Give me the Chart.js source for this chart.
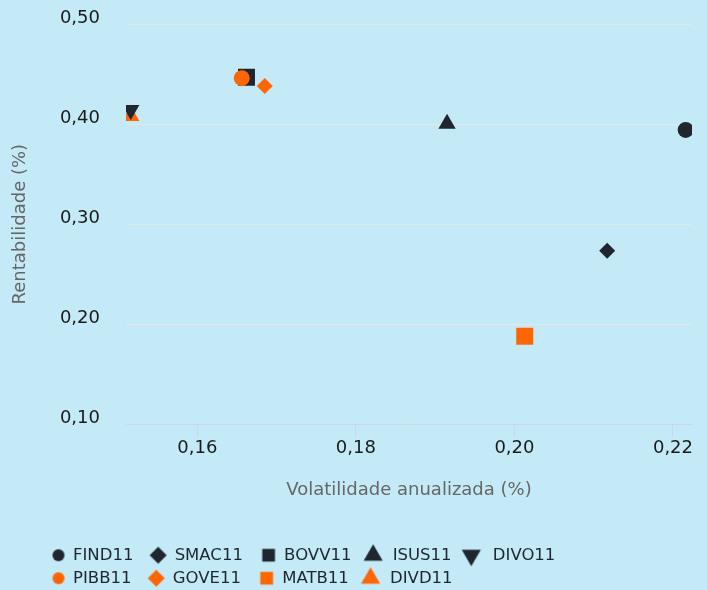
<!DOCTYPE html>
<html>
<head>
<meta charset="utf-8">
<script src="https://cdn.jsdelivr.net/npm/chart.js@4.4.1/dist/chart.umd.min.js"></script>
<style>
  html, body { margin: 0; padding: 0; background: #c4eaf7; }
  #wrap { position: relative; width: 707px; height: 590px; }
</style>
</head>
<body>
<div id="wrap"><canvas id="riskChart"></canvas></div>
<script>
// data
const funds = ['FIND11', 'SMAC11', 'BOVV11', 'ISUS11', 'DIVO11', 'PIBB11', 'GOVE11', 'MATB11', 'DIVD11'];
const volatility = [0.2216, 0.2117, 0.1662, 0.1915, 0.1516, 0.1656, 0.1685, 0.2013, 0.1516];
const returns = [0.3943, 0.2733, 0.4470, 0.4005, 0.4143, 0.4461, 0.4383, 0.1878, 0.4083];
const xTicks = [0.16, 0.18, 0.20, 0.22];
const yTicks = [0.10, 0.20, 0.30, 0.40, 0.50];

const DARK = '#1f2630';
const ORANGE = '#ff6600';
const FONT = 'DejaVu Sans';

// marker look per fund (plot radius, legend radius, legend nudge)
const markers = [
  { color: DARK, style: 'circle', rotation: 0, radius: 8, legendRadius: 6, shift: 7 },
  { color: DARK, style: 'rectRot', rotation: 0, radius: 8, legendRadius: 8.5, shift: 5 },
  { color: DARK, style: 'rect', rotation: 0, radius: 12, legendRadius: 9, shift: 6 },
  { color: DARK, style: 'triangle', rotation: 0, radius: 10, legendRadius: 11, shift: 2 },
  { color: DARK, style: 'triangle', rotation: 180, radius: 10, legendRadius: 11, shift: 0 },
  { color: ORANGE, style: 'circle', rotation: 0, radius: 8, legendRadius: 6, shift: 7 },
  { color: ORANGE, style: 'rectRot', rotation: 0, radius: 8, legendRadius: 8.5, shift: 5 },
  { color: ORANGE, style: 'rect', rotation: 0, radius: 12, legendRadius: 9, shift: 6 },
  { color: ORANGE, style: 'triangle', rotation: 0, radius: 10, legendRadius: 11, shift: 2 }
];

const LEGEND_LEFT = 31.75;
const LEGEND_WIDTH = 560;
const LEGEND_HEIGHT = 49.5;

const fmt = v => v.toFixed(2).replace('.', ',');

function legendIcon(m) {
  const size = Math.ceil(m.legendRadius * 2) + 2;
  const c = document.createElement('canvas');
  c.width = size + 2 * m.shift;
  c.height = size;
  const ctx = c.getContext('2d');
  ctx.fillStyle = m.color;
  Chart.helpers.drawPoint(ctx, {
    pointStyle: m.style, rotation: m.rotation, radius: m.legendRadius, borderWidth: 0
  }, size / 2 + 2 * m.shift, size / 2);
  return c;
}
const icons = markers.map(legendIcon);

// legend wraps after five items, like the original
const legendRows = {
  id: 'legendRows',
  beforeLayout(chart) {
    const legend = chart.legend;
    if (!legend || legend.rowsPatched) return;
    legend.rowsPatched = true;
    const update = legend.update;
    legend.update = function (maxWidth, maxHeight, margins) {
      update.call(this, LEGEND_WIDTH, maxHeight, margins);
      this.height = LEGEND_HEIGHT;
    };
  },
  afterLayout(chart) {
    const legend = chart.legend;
    legend.left = LEGEND_LEFT;
    legend.right = LEGEND_LEFT + LEGEND_WIDTH;
    legend.width = LEGEND_WIDTH;
  }
};

const datasets = funds.map((name, i) => ({
  label: name,
  data: [{ x: volatility[i], y: returns[i] }],
  backgroundColor: markers[i].color,
  borderWidth: 0,
  pointStyle: markers[i].style,
  pointRotation: markers[i].rotation,
  pointRadius: markers[i].radius,
  pointHoverRadius: markers[i].radius,
  pointBorderWidth: 0,
  order: name === 'BOVV11' ? 1 : 0
}));

new Chart(document.getElementById('riskChart'), {
  type: 'scatter',
  data: { datasets },
  plugins: [legendRows],
  options: {
    responsive: true,
    maintainAspectRatio: false,
    animation: false,
    layout: { padding: { top: 24.3, right: 15, bottom: 0, left: 0 } },
    plugins: {
      tooltip: { enabled: false },
      legend: {
        position: 'bottom',
        align: 'start',
        labels: {
          usePointStyle: true,
          pointStyleWidth: 26.5,
          padding: 6.5,
          color: DARK,
          font: { family: FONT, size: 16.5 },
          sort: (a, b) => a.datasetIndex - b.datasetIndex,
          generateLabels(chart) {
            const items = Chart.defaults.plugins.legend.labels.generateLabels(chart);
            return items.map(item => Object.assign(item, {
              pointStyle: icons[item.datasetIndex], rotation: 0
            }));
          }
        }
      }
    },
    scales: {
      x: {
        type: 'linear',
        min: 0.151,
        max: 0.2224,
        afterBuildTicks: s => { s.ticks = xTicks.map(v => ({ value: v })); },
        afterFit: s => { s.height = 116.5; },
        grid: { drawOnChartArea: false, drawTicks: true, tickLength: 13, color: '#ccd6eb' },
        border: { color: '#ccd6eb', width: 1 },
        ticks: {
          padding: 1,
          color: '#1a1a1a',
          font: { family: FONT, size: 18 },
          maxRotation: 0,
          callback: v => fmt(v)
        },
        title: {
          display: true,
          text: 'Volatilidade anualizada (%)',
          color: '#666666',
          font: { family: FONT, size: 18 },
          padding: { top: 0, bottom: 39.7 }
        }
      },
      y: {
        min: 0.1,
        max: 0.5,
        afterBuildTicks: s => { s.ticks = yTicks.map(v => ({ value: v })); },
        afterFit: s => {
          s.width = 126;
          s.paddingTop = 0;
          s.paddingBottom = 0;
        },
        grid: { color: '#e6e6e6', drawTicks: false },
        border: { display: false },
        ticks: {
          padding: 26,
          labelOffset: -5.5,
          color: '#1a1a1a',
          font: { family: FONT, size: 18 },
          callback: v => fmt(v)
        },
        title: {
          display: true,
          text: 'Rentabilidade (%)',
          color: '#666666',
          font: { family: FONT, size: 18 },
          padding: { top: 9.2, bottom: 0 }
        }
      }
    }
  }
});
</script>
</body>
</html>
